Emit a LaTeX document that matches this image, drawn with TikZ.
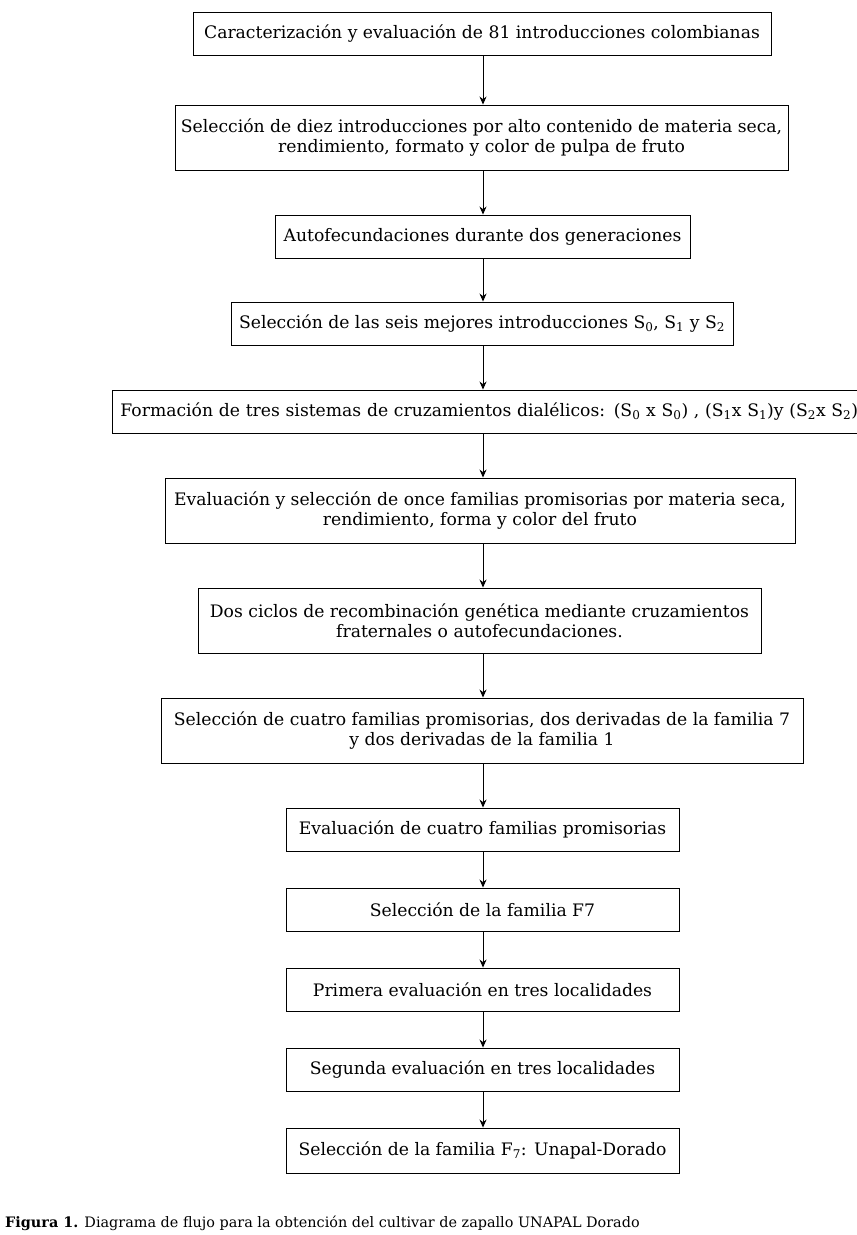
\documentclass[tikz,border=0pt]{standalone}
\usepackage{fontspec}
\setmainfont{DejaVu Serif}
\usetikzlibrary{arrows.meta}
\begin{document}
\begin{tikzpicture}[x=1pt,y=1pt,
  box/.style={draw, line width=0.9pt, inner sep=0pt, align=center, font=\fontsize{17.2}{20.5}\selectfont},
  conn/.style={line width=0.9pt, -{Stealth[length=8pt,width=7pt]}}]
\useasboundingbox (0,0) rectangle (857,-1235);
\clip (0,0) rectangle (857,-1235);
\fill[white] (0,0) rectangle (857,-1235);
\node[box, minimum width=578pt, minimum height=43pt] (b1) at (482,-33.5) {Caracterización y evaluación de 81 introducciones colombianas};
\node[box, minimum width=613pt, minimum height=65pt] (b2) at (481.5,-137.5) {Selección de diez introducciones por alto contenido de materia seca,\\ rendimiento, formato y color de pulpa de fruto};
\node[box, minimum width=415pt, minimum height=43pt] (b3) at (482.5,-236.5) {Autofecundaciones durante dos generaciones};
\node[box, minimum width=502pt, minimum height=43pt] (b4) at (482,-323.5) {Selección de las seis mejores introducciones S\textsubscript{0}, S\textsubscript{1} y S\textsubscript{2}};
\node[box, minimum width=900pt, minimum height=43pt, anchor=west, align=left, text width=892pt] (b5) at (112,-411.5) {\hspace*{4pt}Formación de tres sistemas de cruzamientos dialélicos: (S\textsubscript{0} x S\textsubscript{0}) , (S\textsubscript{1}x S\textsubscript{1})y (S\textsubscript{2}x S\textsubscript{2})};
\node[box, minimum width=630pt, minimum height=65pt] (b6) at (480,-510.5) {Evaluación y selección de once familias promisorias por materia seca,\\ rendimiento, forma y color del fruto};
\node[box, minimum width=563pt, minimum height=65pt] (b7) at (479.5,-620.5) {Dos ciclos de recombinación genética mediante cruzamientos\\ fraternales o autofecundaciones.};
\node[box, minimum width=642pt, minimum height=65pt] (b8) at (482,-730.5) {Selección de cuatro familias promisorias, dos derivadas de la familia 7\\ y dos derivadas de la familia 1};
\node[box, minimum width=393pt, minimum height=43pt] (b9) at (482.5,-829.5) {Evaluación de cuatro familias promisorias};
\node[box, minimum width=393pt, minimum height=43pt] (b10) at (482.5,-909.5) {Selección de la familia F7};
\node[box, minimum width=393pt, minimum height=43pt] (b11) at (482.5,-989.5) {Primera evaluación en tres localidades};
\node[box, minimum width=393pt, minimum height=43pt] (b12) at (482.5,-1069.5) {Segunda evaluación en tres localidades};
\node[box, minimum width=393pt, minimum height=45pt] (b13) at (482.5,-1150.5) {Selección de la familia F\textsubscript{7}: Unapal-Dorado};
\coordinate (ax) at (483,0);
\foreach \a/\b in {b1/b2,b2/b3,b3/b4,b4/b5,b5/b6,b6/b7,b7/b8,b8/b9,b9/b10,b10/b11,b11/b12,b12/b13}
  \draw[conn] (ax |- \a.south) -- (ax |- \b.north);
\node[anchor=west, inner sep=0pt, font=\fontsize{14.4}{16}\selectfont] (cap) at (5,-1223) {\textbf{Figura 1.} Diagrama de flujo para la obtención del cultivar de zapallo UNAPAL Dorado};
\end{tikzpicture}
\end{document}
